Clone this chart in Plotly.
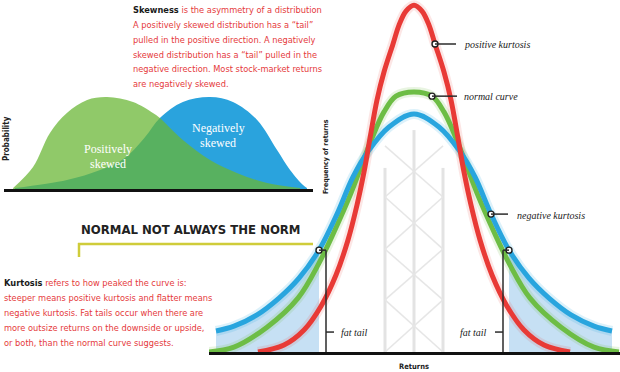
import plotly.graph_objects as go

W, H = 620, 372

# ---------------- data ----------------
# Skewness panel (x: outcome, y: probability)
pos_skew_x = [0.17, 0.83, 1.39, 1.95, 2.62, 3.28, 4.14, 4.80, 5.03, 5.79, 6.69, 7.58, 8.58, 9.67]
pos_skew_y = [0.01, 0.22, 0.56, 0.76, 0.89, 0.92, 0.87, 0.76, 0.71, 0.49, 0.29, 0.16, 0.06, 0.01]
neg_skew_x = [0.23, 1.95, 3.05, 3.87, 4.54, 5.03, 5.79, 6.69, 7.45, 8.25, 8.91, 9.34, 9.77, 9.90]
neg_skew_y = [0.01, 0.09, 0.19, 0.31, 0.52, 0.71, 0.87, 0.92, 0.87, 0.69, 0.39, 0.19, 0.04, 0.01]

# Kurtosis panel (x: returns, y: frequency of returns)
pos_kurt_x = [-3.12, -2.60, -2.20, -1.86, -1.56, -1.32, -1.14, -1.00, -0.88, -0.74, -0.60, -0.42, -0.30, -0.16, 0.0,
              0.16, 0.30, 0.42, 0.60, 0.74, 0.88, 1.00, 1.14, 1.32, 1.56, 1.86, 2.20, 2.60, 3.12]
pos_kurt_y = [0.0, 0.020, 0.063, 0.131, 0.220, 0.320, 0.420, 0.514, 0.611, 0.720, 0.800, 0.880, 0.934, 0.974, 0.991,
              0.974, 0.934, 0.880, 0.800, 0.720, 0.611, 0.514, 0.420, 0.320, 0.220, 0.131, 0.063, 0.020, 0.0]
normal_x = [-4.10, -3.60, -2.94, -2.32, -1.90, -1.60, -1.26, -1.06, -0.84, -0.60, -0.36, 0.0,
            0.36, 0.60, 0.84, 1.06, 1.26, 1.60, 1.90, 2.32, 2.94, 3.60, 4.10]
normal_y = [0.0, 0.014, 0.071, 0.154, 0.254, 0.343, 0.454, 0.529, 0.611, 0.686, 0.731, 0.743,
            0.731, 0.686, 0.611, 0.529, 0.454, 0.343, 0.254, 0.154, 0.071, 0.014, 0.0]
neg_kurt_x = [-3.96, -3.60, -3.14, -2.70, -2.30, -1.90, -1.54, -1.22, -0.90, -0.50, 0.0,
              0.50, 0.90, 1.22, 1.54, 1.90, 2.30, 2.70, 3.14, 3.60, 3.96]
neg_kurt_y = [0.060, 0.074, 0.106, 0.154, 0.211, 0.291, 0.394, 0.500, 0.577, 0.643, 0.680,
              0.643, 0.577, 0.500, 0.394, 0.291, 0.211, 0.154, 0.106, 0.074, 0.060]
fat_tail_bound = 1.90

left_tail = [(x, y) for x, y in zip(neg_kurt_x, neg_kurt_y) if x <= -fat_tail_bound]
right_tail = [(x, y) for x, y in zip(neg_kurt_x, neg_kurt_y) if x >= fat_tail_bound]

# ---------------- style ----------------
RED = "#e83a36"
GREEN = "#6dbd45"
BLUE = "#28a5de"
TXT_RED = "#e5393b"
NARROW = "Liberation Sans Narrow, DejaVu Sans Condensed, Arial Narrow, sans-serif"
SERIF = "Liberation Serif, DejaVu Serif, serif"


def px(x):
    return x / W


def py(y):
    return 1 - y / H


fig = go.Figure()

# ---- skewness panel ----
fig.add_trace(go.Scatter(x=neg_skew_x, y=neg_skew_y, mode="lines", fill="tozeroy",
                         fillcolor="#2aa3dd", line=dict(color="#2aa3dd", width=0, shape="spline"),
                         xaxis="x", yaxis="y", hoverinfo="skip", showlegend=False))
fig.add_trace(go.Scatter(x=pos_skew_x, y=pos_skew_y, mode="lines", fill="tozeroy",
                         fillcolor="rgba(105,182,52,0.74)", line=dict(color="rgba(0,0,0,0)", width=0, shape="spline"),
                         xaxis="x", yaxis="y", hoverinfo="skip", showlegend=False))

# ---- kurtosis panel ----
for tail in (left_tail, right_tail):
    fig.add_trace(go.Scatter(x=[t[0] for t in tail], y=[t[1] for t in tail], mode="lines",
                             fill="tozeroy", fillcolor="#c6e0f4",
                             line=dict(color="rgba(0,0,0,0)", width=0, shape="spline"),
                             xaxis="x2", yaxis="y2", hoverinfo="skip", showlegend=False))

curves = [(normal_x, normal_y, GREEN, "rgba(109,189,69,0.16)"),
          (neg_kurt_x, neg_kurt_y, BLUE, "rgba(40,165,222,0.16)"),
          (pos_kurt_x, pos_kurt_y, RED, "rgba(232,58,54,0.13)")]
for cx, cy, col, glow in curves:
    fig.add_trace(go.Scatter(x=cx, y=cy, mode="lines", line=dict(color=glow, width=10, shape="spline"),
                             xaxis="x2", yaxis="y2", hoverinfo="skip", showlegend=False))
for cx, cy, col, glow in curves:
    fig.add_trace(go.Scatter(x=cx, y=cy, mode="lines", line=dict(color=col, width=5, shape="spline"),
                             xaxis="x2", yaxis="y2", hoverinfo="skip", showlegend=False))

# callout dots
dot_x = [0.42, 0.36, 1.54, -1.90, 1.90]
dot_y = [0.880, 0.731, 0.394, 0.291, 0.291]

shapes = []
LC = "#2b2b2b"
# lattice
post_x = [-0.58, 0.0, 0.58]
post_top = [0.526, 0.634, 0.526]
for xx, tt in zip(post_x, post_top):
    shapes.append(dict(type="line", xref="x2", yref="y2", x0=xx, x1=xx, y0=0, y1=tt,
                       line=dict(color="#e3e3e3", width=3), layer="below"))
lat_y = [0.589, 0.443, 0.294, 0.149, 0.0]
for a, b in zip(lat_y[:-1], lat_y[1:]):
    shapes.append(dict(type="line", xref="x2", yref="y2", x0=-0.58, x1=0.58, y0=a, y1=b,
                       line=dict(color="#e6e6e6", width=1.5), layer="below"))
    shapes.append(dict(type="line", xref="x2", yref="y2", x0=0.58, x1=-0.58, y0=a, y1=b,
                       line=dict(color="#e6e6e6", width=1.5), layer="below"))

# leader lines
shapes += [
    dict(type="line", xref="x2", yref="y2", x0=0.42, x1=0.84, y0=0.880, y1=0.880, line=dict(color=LC, width=1.5)),
    dict(type="line", xref="x2", yref="y2", x0=0.36, x1=0.86, y0=0.731, y1=0.731, line=dict(color=LC, width=1.5)),
    dict(type="line", xref="x2", yref="y2", x0=1.54, x1=1.88, y0=0.394, y1=0.394, line=dict(color=LC, width=1.5)),
    # left fat tail bracket
    dict(type="line", xref="x2", yref="y2", x0=-1.90, x1=-1.76, y0=0.291, y1=0.291, line=dict(color=LC, width=1.5)),
    dict(type="line", xref="x2", yref="y2", x0=-1.76, x1=-1.76, y0=0.291, y1=0.0, line=dict(color=LC, width=1.5)),
    dict(type="line", xref="x2", yref="y2", x0=-1.76, x1=-1.60, y0=0.057, y1=0.057, line=dict(color=LC, width=1.5)),
    # right fat tail bracket
    dict(type="line", xref="x2", yref="y2", x0=1.90, x1=1.78, y0=0.291, y1=0.291, line=dict(color=LC, width=1.5)),
    dict(type="line", xref="x2", yref="y2", x0=1.78, x1=1.78, y0=0.291, y1=0.0, line=dict(color=LC, width=1.5)),
    dict(type="line", xref="x2", yref="y2", x0=1.78, x1=1.62, y0=0.057, y1=0.057, line=dict(color=LC, width=1.5)),
]
# yellow title rule
shapes += [
    dict(type="line", xref="paper", yref="paper", x0=px(78), x1=px(313), y0=py(244), y1=py(244),
         line=dict(color="#cfcc3a", width=2.5)),
    dict(type="line", xref="paper", yref="paper", x0=px(79), x1=px(79), y0=py(243), y1=py(257),
         line=dict(color="#cfcc3a", width=2.5)),
]

fig.add_trace(go.Scatter(x=dot_x, y=dot_y, mode="markers",
                         marker=dict(size=6, color="white", line=dict(color="#1e1e1e", width=1.4)),
                         xaxis="x2", yaxis="y2", hoverinfo="skip", showlegend=False))

ann = []


def text(x, y, s, size=12, color="#222", family=NARROW, xanchor="left", angle=0):
    ann.append(dict(x=px(x), y=py(y), xref="paper", yref="paper", text=s, showarrow=False,
                    xanchor=xanchor, yanchor="middle", textangle=angle,
                    font=dict(family=family, size=size, color=color)))


BODY = 9.2
skew_lines = [
    "<b>Skewness</b> <span style='color:%s'>is the asymmetry of a distribution</span>" % TXT_RED,
    "A positively skewed distribution has a “tail”",
    "pulled in the positive direction. A negatively",
    "skewed distribution has a “tail” pulled in the",
    "negative direction. Most stock-market returns",
    "are negatively skewed.",
]
for i, s in enumerate(skew_lines):
    text(131, 10 + i * 14.7, s, size=BODY, color="#1a1a1a" if i == 0 else TXT_RED)

kurt_lines = [
    "<b>Kurtosis</b> <span style='color:%s'>refers to how peaked the curve is:</span>" % TXT_RED,
    "steeper means positive kurtosis and flatter means",
    "negative kurtosis. Fat tails occur when there are",
    "more outsize returns on the downside or upside,",
    "or both, than the normal curve suggests.",
]
for i, s in enumerate(kurt_lines):
    text(2, 282 + i * 15, s, size=BODY, color="#1a1a1a" if i == 0 else TXT_RED)

text(190.5, 229, "<b>NORMAL NOT ALWAYS THE NORM</b>", size=13, color="#222", xanchor="center")

text(108, 149, "Positively", size=12, color="white", family=SERIF, xanchor="center")
text(108, 164, "skewed", size=12, color="white", family=SERIF, xanchor="center")
text(218, 128, "Negatively", size=12, color="white", family=SERIF, xanchor="center")
text(218, 143, "skewed", size=12, color="white", family=SERIF, xanchor="center")

text(6, 139, "<b>Probability</b>", size=8, xanchor="center", angle=-90)
text(326, 157, "<b>Frequency of returns</b>", size=7, xanchor="center", angle=-90)
text(414, 366, "<b>Returns</b>", size=7.5, xanchor="center")

text(462, 44, "<i>positive kurtosis</i>", size=10, family=SERIF)
text(462, 96, "<i>normal curve</i>", size=10, family=SERIF)
text(515, 215, "<i>negative kurtosis</i>", size=10, family=SERIF)
text(339, 332, "<i>fat tail</i>", size=10, family=SERIF)
text(489, 332, "<i>fat tail</i>", size=10, family=SERIF, xanchor="right")

axis_off = dict(showgrid=False, zeroline=False, showticklabels=False, ticks="", showline=False)
fig.update_layout(
    width=W, height=H, margin=dict(l=0, r=0, t=0, b=0),
    paper_bgcolor="white", plot_bgcolor="rgba(0,0,0,0)", showlegend=False,
    xaxis=dict(domain=[px(4), px(313)], range=[-0.132, 10.10], anchor="y",
               showgrid=False, zeroline=False, showticklabels=False, ticks="",
               showline=True, linecolor="#111", linewidth=3),
    yaxis=dict(domain=[py(189), py(89)], range=[0, 1], anchor="x", **axis_off),
    xaxis2=dict(domain=[px(209), 1], range=[-(414 - 209) / 50, (620 - 414) / 50], anchor="y2",
                showgrid=False, zeroline=False, showticklabels=False, ticks="",
                showline=True, linecolor="#111", linewidth=2.5),
    yaxis2=dict(domain=[py(352), 1], range=[0, 352 / 350], anchor="x2", **axis_off),
    shapes=shapes, annotations=ann,
)

fig.write_html("out.html", config={"displayModeBar": False},
               post_script="document.body.style.margin='0';document.body.style.overflow='hidden';")
